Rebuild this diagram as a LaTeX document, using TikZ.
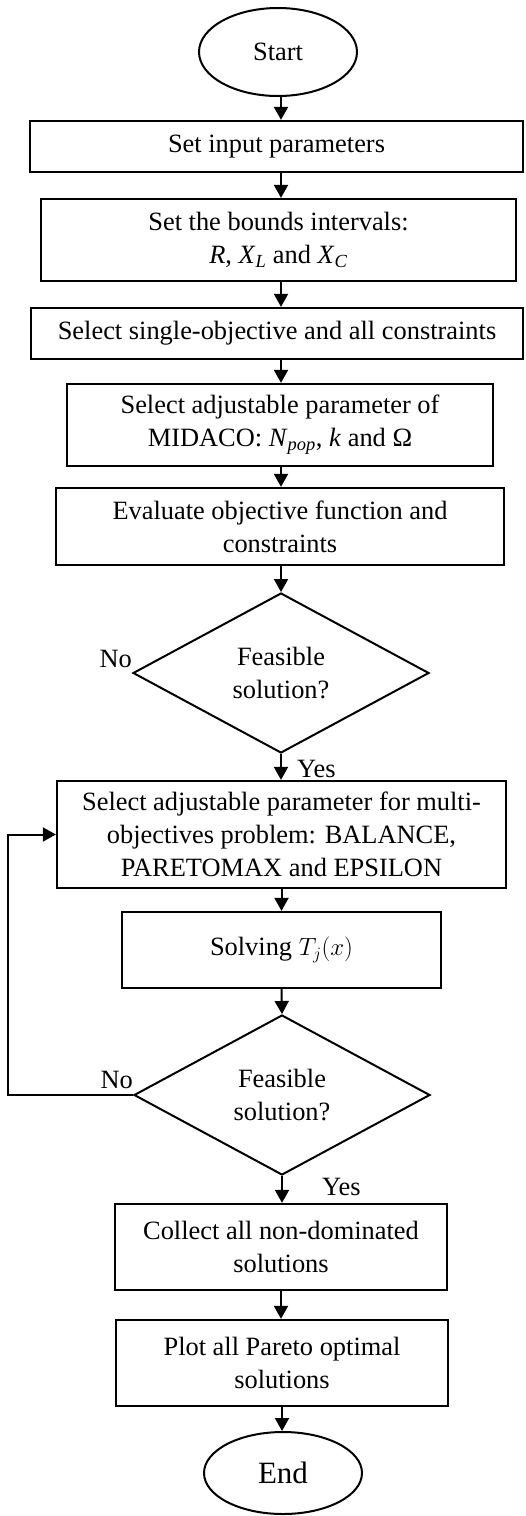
\documentclass[tikz,border=0pt]{standalone}
\usepackage{fontspec}
\setmainfont{Liberation Serif}
\usetikzlibrary{shapes.geometric,arrows.meta}
\begin{document}
\begin{tikzpicture}[x=1pt,y=-1pt,
 box/.style={draw,rectangle,line width=2.3pt,inner sep=0pt,align=center,font=\fontsize{26.4}{33}\selectfont},
 term/.style={draw,ellipse,line width=2pt,inner sep=0pt,font=\fontsize{26.4}{33}\selectfont},
 decision/.style={draw,diamond,line width=2pt,inner sep=0pt,align=center,shape aspect=1.84,minimum width=296pt,minimum height=160pt,font=\fontsize{26.4}{33}\selectfont},
 arr/.style={line width=2pt,-{Triangle[width=14pt,length=13pt]}},
 lbl/.style={inner sep=0pt,font=\fontsize{26.4}{33}\selectfont}]
\useasboundingbox (0,0) rectangle (526,1516);
\coordinate (ax) at (281,0);
\coordinate (loopx) at (8,0);
\node[term,minimum width=158pt,minimum height=88pt] (start) at (278,52) {Start};
\node[box,minimum width=493pt,minimum height=51pt] (b1) at (276.5,146.5) {Set input parameters};
\node[box,minimum width=475pt,minimum height=82pt] (b2) at (278.5,240) {Set the bounds intervals:\\\textit{R}, \textit{X}\textsubscript{\textit{L}} and \textit{X}\textsubscript{\textit{C}}};
\node[box,minimum width=492pt,minimum height=51pt] (b3) at (277,333.5) {Select single-objective and all constraints};
\node[box,minimum width=426pt,minimum height=82pt] (b4) at (280,425) {Select adjustable parameter of\\MIDACO: \textit{N}\textsubscript{\textit{pop}}, \textit{k} and Ω};
\node[box,minimum width=448pt,minimum height=77pt] (b5) at (280,526.5) {Evaluate objective function and\\constraints};
\node[decision] (d1) at (281,673) {Feasible\\solution?};
\node[box,minimum width=449pt,minimum height=107pt] (b6) at (281.5,834.5) {Select adjustable parameter for multi-\\objectives problem: BALANCE,\\PARETOMAX and EPSILON};
\node[box,minimum width=319pt,minimum height=76pt] (b7) at (281.5,950) {Solving $T_j(x)$};
\node[decision] (d2) at (282,1095) {Feasible\\solution?};
\node[box,minimum width=332pt,minimum height=86pt] (b8) at (281,1247) {Collect all non-dominated\\solutions};
\node[box,minimum width=332pt,minimum height=86pt] (b9) at (282,1363) {Plot all Pareto optimal\\solutions};
\node[term,minimum width=158pt,minimum height=82pt,font=\fontsize{31}{36}\selectfont] (end) at (283,1473) {End};
\node[lbl,anchor=base east] (no1) at (132,667) {No};
\node[lbl,anchor=base west] (yes1) at (297,777) {Yes};
\node[lbl,anchor=base east] (no2) at (133,1088) {No};
\node[lbl,anchor=base west] (yes2) at (322,1195) {Yes};
\draw[arr] (start.south -| ax) -- (b1.north -| ax);
\draw[arr] (b1.south -| ax) -- (b2.north -| ax);
\draw[arr] (b2.south -| ax) -- (b3.north -| ax);
\draw[arr] (b3.south -| ax) -- (b4.north -| ax);
\draw[arr] (b4.south -| ax) -- (b5.north -| ax);
\draw[arr] (b5.south -| ax) -- (d1.north);
\draw[arr] (d1.south) -- (b6.north -| d1.south);
\draw[arr] (b6.south) -- (b7.north);
\draw[arr] (b7.south) -- (d2.north);
\draw[arr] (d2.south) -- (b8.north -| d2.south);
\draw[arr] (b8.south) -- (b9.north -| b8.south);
\draw[arr] (b9.south) -- (end.north -| b9.south);
\draw[arr] (d2.west) -- (d2.west -| loopx) |- (b6.west);
\end{tikzpicture}
\end{document}
